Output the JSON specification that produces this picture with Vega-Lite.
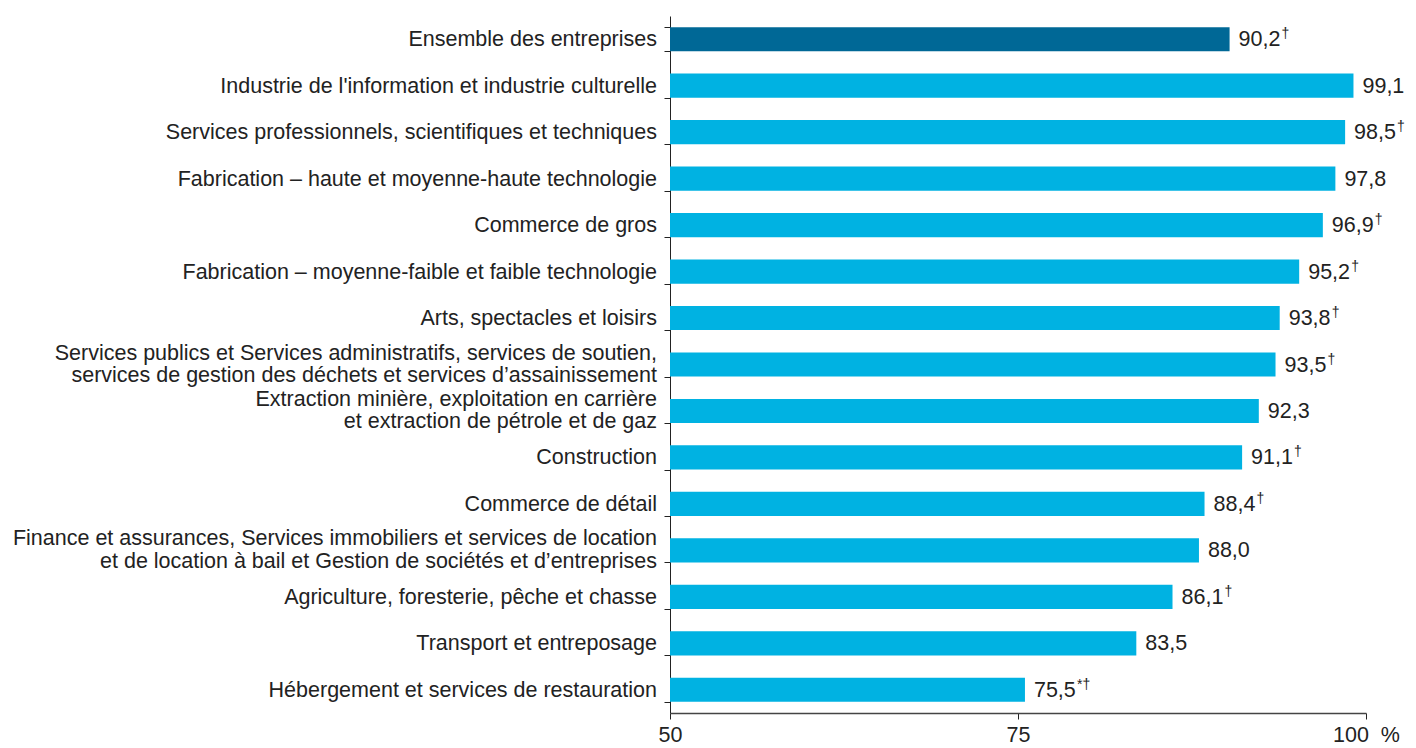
{
  "$schema": "https://vega.github.io/schema/vega-lite/v6.json",
  "autosize": "none",
  "width": 696,
  "height": 697,
  "padding": {"left": 670, "top": 16, "right": 50, "bottom": 35},
  "background": "white",
  "config": {"view": {"stroke": null}, "font": "Liberation Sans"},
  "data": {"values": [
    {"cat": "c01", "l1": "Ensemble des entreprises", "l2": "", "value": 90.2, "txt": "90,2", "suf": "†", "grp": "total"},
    {"cat": "c02", "l1": "Industrie de l'information et industrie culturelle", "l2": "", "value": 99.1, "txt": "99,1", "suf": "", "grp": "ind"},
    {"cat": "c03", "l1": "Services professionnels, scientifiques et techniques", "l2": "", "value": 98.5, "txt": "98,5", "suf": "†", "grp": "ind"},
    {"cat": "c04", "l1": "Fabrication – haute et moyenne-haute technologie", "l2": "", "value": 97.8, "txt": "97,8", "suf": "", "grp": "ind"},
    {"cat": "c05", "l1": "Commerce de gros", "l2": "", "value": 96.9, "txt": "96,9", "suf": "†", "grp": "ind"},
    {"cat": "c06", "l1": "Fabrication – moyenne-faible et faible technologie", "l2": "", "value": 95.2, "txt": "95,2", "suf": "†", "grp": "ind"},
    {"cat": "c07", "l1": "Arts, spectacles et loisirs", "l2": "", "value": 93.8, "txt": "93,8", "suf": "†", "grp": "ind"},
    {"cat": "c08", "l1": "Services publics et Services administratifs, services de soutien,", "l2": "services de gestion des déchets et services d’assainissement", "value": 93.5, "txt": "93,5", "suf": "†", "grp": "ind"},
    {"cat": "c09", "l1": "Extraction minière, exploitation en carrière", "l2": "et extraction de pétrole et de gaz", "value": 92.3, "txt": "92,3", "suf": "", "grp": "ind"},
    {"cat": "c10", "l1": "Construction", "l2": "", "value": 91.1, "txt": "91,1", "suf": "†", "grp": "ind"},
    {"cat": "c11", "l1": "Commerce de détail", "l2": "", "value": 88.4, "txt": "88,4", "suf": "†", "grp": "ind"},
    {"cat": "c12", "l1": "Finance et assurances, Services immobiliers et services de location", "l2": "et de location à bail et Gestion de sociétés et d’entreprises", "value": 88.0, "txt": "88,0", "suf": "", "grp": "ind"},
    {"cat": "c13", "l1": "Agriculture, foresterie, pêche et chasse", "l2": "", "value": 86.1, "txt": "86,1", "suf": "†", "grp": "ind"},
    {"cat": "c14", "l1": "Transport et entreposage", "l2": "", "value": 83.5, "txt": "83,5", "suf": "", "grp": "ind"},
    {"cat": "c15", "l1": "Hébergement et services de restauration", "l2": "", "value": 75.5, "txt": "75,5", "suf": "*†", "grp": "ind"}
  ]},
  "encoding": {
    "y": {
      "field": "cat", "type": "nominal", "sort": null, "title": null,
      "scale": {"paddingInner": 0.48, "paddingOuter": 0.24},
      "axis": {
        "tickBand": "extent", "tickSize": 6, "tickColor": "#222", "domainColor": "#222",
        "labels": false
      }
    },
    "x": {
      "field": "value", "type": "quantitative", "title": null,
      "scale": {"domain": [50, 100], "zero": false, "nice": false},
      "axis": {
        "values": [50, 75, 100], "grid": false, "tickSize": 6, "tickColor": "#222", "domainColor": "#444", "domainWidth": 1.5,
        "labelFontSize": 21.5, "labelColor": "#222", "labelPadding": 5, "labelFlush": false,
        "labelExpr": "datum.value == 100 ? '\u00a0\u00a0\u00a0\u00a0\u00a0100\u00a0\u00a0%' : datum.label"
      }
    }
  },
  "layer": [
    {
      "mark": {"type": "bar"},
      "encoding": {
        "x2": {"datum": 50},
        "color": {"field": "grp", "type": "nominal", "legend": null,
          "scale": {"domain": ["total", "ind"], "range": ["#006896", "#00B2E2"]}}
      }
    },
    {
      "mark": {"type": "text", "align": "left", "baseline": "middle", "dx": 9, "dy": 1, "fontSize": 21.5, "color": "#222"},
      "encoding": {"text": {"field": "txt"}}
    },
    {
      "mark": {"type": "text", "align": "left", "baseline": "middle", "dx": 52, "dy": -5, "fontSize": 14, "color": "#222"},
      "encoding": {"text": {"field": "suf"}}
    },
    {
      "transform": [{"filter": "datum.l2 == ''"}],
      "mark": {"type": "text", "align": "right", "baseline": "middle", "dx": -13, "dy": 1, "fontSize": 21.5, "color": "#222"},
      "encoding": {"x": {"datum": 50}, "text": {"field": "l1"}}
    },
    {
      "transform": [{"filter": "datum.l2 != ''"}],
      "mark": {"type": "text", "align": "right", "baseline": "middle", "dx": -13, "dy": -11, "fontSize": 21.5, "color": "#222"},
      "encoding": {"x": {"datum": 50}, "text": {"field": "l1"}}
    },
    {
      "transform": [{"filter": "datum.l2 != ''"}],
      "mark": {"type": "text", "align": "right", "baseline": "middle", "dx": -13, "dy": 11.5, "fontSize": 21.5, "color": "#222"},
      "encoding": {"x": {"datum": 50}, "text": {"field": "l2"}}
    }
  ]
}
